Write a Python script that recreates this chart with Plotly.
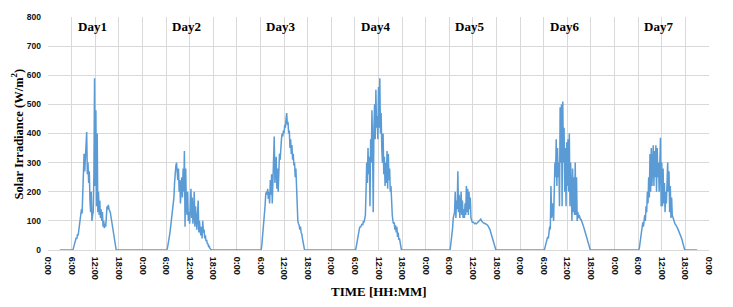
import plotly.graph_objects as go

# Solar irradiance (W/m^2), 10-minute samples from 06:00 to 18:00 for each day
day1 = [0, 0, 0, 8, 15, 25,
        30, 42, 38, 55, 50, 65,
        80, 95, 110, 140, 125, 180,
        240, 330, 270, 310, 350, 405,
        260, 300, 230, 270, 170, 130,
        200, 100, 120, 130, 260, 590,
        220, 480, 150, 400, 130, 200,
        120, 170, 110, 140, 100, 130,
        80, 100, 75, 90, 80, 110,
        150, 140, 155, 140, 135, 130,
        115, 100, 85, 65, 45, 30,
        15, 5, 0, 0, 0, 0,
        0]
day2 = [0, 0, 5, 15, 30, 45,
        60, 80, 95, 110, 130, 160,
        180, 230, 270, 290, 300, 260,
        240, 280, 200, 240, 160, 220,
        250, 180, 280, 200, 340, 80,
        280, 150, 120, 200, 100, 130,
        90, 150, 210, 110, 180, 90,
        120, 200, 80, 150, 110, 70,
        120, 170, 60, 100, 70, 50,
        80, 40, 100, 60, 70, 40,
        50, 30, 35, 20, 22, 10,
        12, 5, 2, 0, 0, 0,
        0]
day3 = [0, 0, 15, 40, 65, 90,
        110, 150, 190, 200, 190, 210,
        175, 200, 160, 240, 190, 260,
        160, 220, 300, 390, 230, 270,
        320, 210, 280, 200, 300, 330,
        310, 360, 380, 400, 390, 410,
        400, 430, 420, 450, 470, 430,
        440, 400, 410, 350, 380, 330,
        360, 310, 330, 290, 300, 250,
        280, 220, 130, 100, 90, 85,
        70, 80, 60, 55, 40, 25,
        12, 3, 0, 0, 0, 0,
        0]
day4 = [0, 0, 10, 25, 40, 55,
        70, 75, 80, 80, 85, 90,
        85, 100, 95, 110, 120, 200,
        300, 230, 350, 260, 320, 150,
        380, 300, 480, 350, 130, 420,
        500, 380, 550, 420, 460, 380,
        560, 420, 590, 400, 470, 350,
        300, 400, 260, 320, 220, 300,
        230, 340, 210, 330, 240, 280,
        200, 220, 150, 120, 100, 90,
        95, 70, 85, 60, 80, 45,
        60, 35, 40, 20, 8, 0,
        0]
day5 = [0, 0, 15, 35, 40, 75,
        110, 120, 130, 200, 110, 170,
        140, 270, 130, 190, 110, 150,
        200, 120, 170, 110, 140, 110,
        160, 120, 220, 130, 210, 120,
        200, 140, 180, 110, 100, 95,
        95, 95, 92, 90, 92, 90,
        92, 94, 96, 98, 100, 102,
        106, 100, 96, 95, 93, 92,
        92, 90, 89, 88, 86, 83,
        80, 75, 70, 62, 55, 47,
        40, 31, 22, 13, 5, 0,
        0]
day6 = [0, 0, 10, 20, 30, 35,
        45, 40, 60, 80, 70, 220,
        110, 140, 160, 100, 230, 300,
        250, 380, 220, 350, 250, 300,
        150, 490, 300, 500, 150, 510,
        300, 420, 200, 350, 150, 370,
        220, 380, 200, 400, 150, 300,
        200, 100, 280, 130, 250, 120,
        300, 120, 250, 100, 130, 110,
        120, 110, 105, 105, 100, 95,
        85, 78, 70, 62, 55, 47,
        40, 30, 20, 10, 3, 0,
        0]
day7 = [0, 0, 10, 25, 40, 55,
        70, 95, 80, 110, 120, 100,
        150, 130, 200, 160, 250, 180,
        330, 200, 350, 220, 300, 360,
        220, 340, 250, 360, 200, 350,
        250, 300, 200, 330, 385, 150,
        300, 150, 280, 160, 230, 130,
        200, 160, 280, 300, 200, 270,
        130, 220, 110, 180, 120, 110,
        100, 95, 90, 88, 85, 80,
        75, 70, 65, 60, 55, 50,
        42, 35, 25, 15, 5, 0,
        0]

days = [day1, day2, day3, day4, day5, day6, day7]
day_labels = ["Day1", "Day2", "Day3", "Day4", "Day5", "Day6", "Day7"]
tick_labels = ["0:00", "6:00", "12:00", "18:00"]
record_start_hour = 3     # first record, day 1 (night, 0 W/m^2)
record_end_hour = 21      # last record, day 7 (night, 0 W/m^2)
sample_minutes = 10
daylight_start_hour = 6

# Build continuous time axis (hours since day-1 midnight)
x = [record_start_hour]
y = [0]
for d, vals in enumerate(days):
    for i, v in enumerate(vals):
        x.append(d * 24 + daylight_start_hour + i * sample_minutes / 60)
        y.append(v)
x.append((len(days) - 1) * 24 + record_end_hour)
y.append(0)

n_hours = len(days) * 24
tickvals = list(range(0, n_hours + 1, 6))
ticktext = [tick_labels[(t // 6) % 4] for t in tickvals]

fig = go.Figure()
fig.add_trace(go.Scatter(x=x, y=y, mode="lines",
                         line=dict(color="#5b9bd5", width=1.5),
                         showlegend=False, hoverinfo="skip"))

serif = "Liberation Serif, Times New Roman, serif"
sans = "Liberation Sans, Arial, sans-serif"

annotations = []
for d, lab in enumerate(day_labels):
    annotations.append(dict(x=d * 24 + 11.2, y=768, xref="x", yref="y",
                            text=lab, showarrow=False,
                            font=dict(family=serif, size=13, color="black", weight="bold")))
annotations.append(dict(x=-0.047, y=0.5, xref="paper", yref="paper",
                        text="Solar Irradiance (W/m<sup>2</sup>)", textangle=-90,
                        showarrow=False, xanchor="center", yanchor="middle",
                        font=dict(family=serif, size=12.5, color="black", weight="bold")))
annotations.append(dict(x=0.5, y=-0.18, xref="paper", yref="paper",
                        text="TIME [HH:MM]", showarrow=False,
                        xanchor="center", yanchor="middle",
                        font=dict(family=serif, size=13, color="black", weight="bold")))

fig.update_layout(
    width=733, height=307,
    margin=dict(l=48, r=24, t=12, b=57),
    paper_bgcolor="white", plot_bgcolor="white",
    annotations=annotations,
    xaxis=dict(range=[0, n_hours], tickmode="array", tickvals=tickvals, ticktext=ticktext,
               tickangle=90, showgrid=True, gridcolor="#d9d9d9", gridwidth=1,
               zeroline=False, showline=True, linecolor="#d9d9d9", linewidth=1,
               ticks="", ticklabelstandoff=4,
               tickfont=dict(family=sans, size=9, color="#111", weight="bold")),
    yaxis=dict(range=[0, 800], dtick=100, showgrid=True, gridcolor="#d9d9d9", gridwidth=1,
               zeroline=False, showline=False, ticks="", ticklabelstandoff=6,
               tickfont=dict(family=sans, size=8.5, color="#111", weight="bold")),
)

fig.write_html("out.html", config={"displayModeBar": False})

# remove the browser's default page margin so the chart sits at the window origin
with open("out.html", "r", encoding="utf-8") as f:
    html = f.read()
html = html.replace("<head>", "<head><style>html,body{margin:0;padding:0;overflow:hidden;}</style>", 1)
with open("out.html", "w", encoding="utf-8") as f:
    f.write(html)
